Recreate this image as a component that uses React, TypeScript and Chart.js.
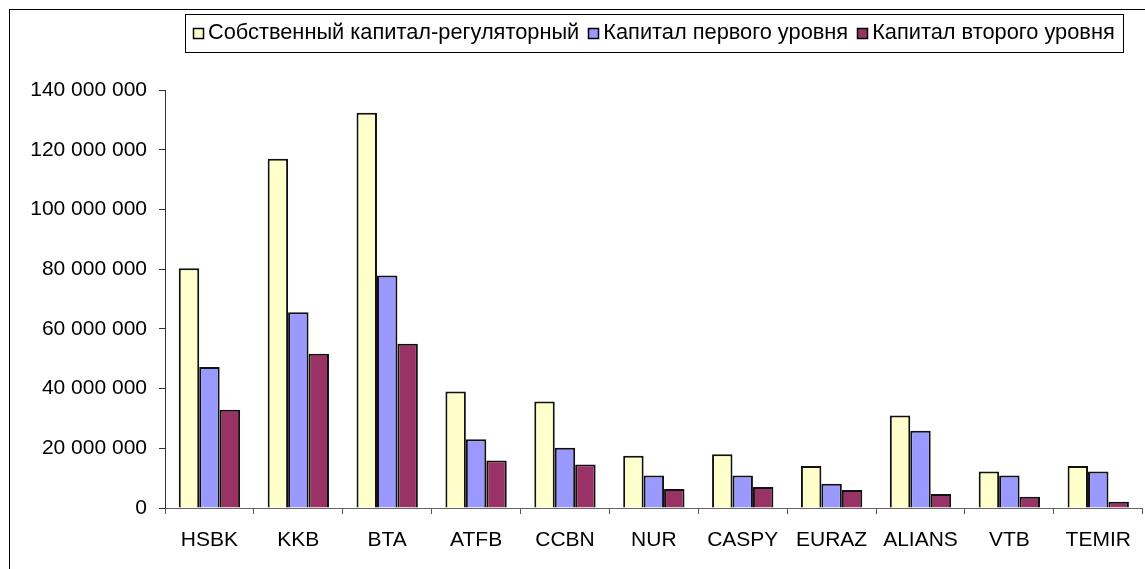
import React, { useEffect, useRef } from 'react';
import { Chart, registerables } from 'chart.js';

Chart.register(...registerables);

const categories = ['HSBK', 'KKB', 'BTA', 'ATFB', 'CCBN', 'NUR', 'CASPY', 'EURAZ', 'ALIANS', 'VTB', 'TEMIR'];
const seriesNames = ['Собственный капитал-регуляторный', 'Капитал первого уровня', 'Капитал второго уровня'];
const ownCapital = [80300000, 117000000, 132400000, 39000000, 35700000, 17500000, 18000000, 14100000, 31000000, 12200000, 14100000];
const tier1Capital = [47200000, 65600000, 77900000, 23000000, 20200000, 10900000, 10900000, 8100000, 25900000, 10900000, 12200000];
const tier2Capital = [32900000, 51700000, 55000000, 15900000, 14600000, 6400000, 7000000, 6000000, 4700000, 3800000, 2100000];
const yMin = 0;
const yMax = 140000000;
const yStep = 20000000;
const seriesColors = ['#FFFFCC', '#9999FF', '#993366'];

const FONT_FAMILY = '"Liberation Sans", Arial, sans-serif';

const formatNumber = (v: number) => String(Math.round(v)).replace(/\B(?=(\d{3})+(?!\d))/g, ' ');

const boxLegend = {
  id: 'boxLegend',
  afterDraw(chart: any) {
    const ctx = chart.ctx as CanvasRenderingContext2D;
    const area = chart.chartArea;
    ctx.save();
    ctx.font = `21.8px ${FONT_FAMILY}`;
    const items = chart.data.datasets.map((ds: any) => ({
      label: ds.label as string,
      color: ds.backgroundColor as string,
      w: ctx.measureText(ds.label).width,
    }));
    const marker = 10;
    const gapText = 5;
    const gapItem = 9;
    const pad = 8;
    const total =
      items.reduce((s: number, it: any) => s + marker + gapText + it.w, 0) + gapItem * (items.length - 1);
    const cx = (area.left + area.right) / 2;
    let x = cx - total / 2;
    const top = 14;
    const bottom = 52;
    const bx = Math.round(x - pad) + 0.5;
    const bw = Math.round(total + 2 * pad);
    ctx.fillStyle = '#ffffff';
    ctx.fillRect(bx, top + 0.5, bw, bottom - top);
    ctx.strokeStyle = '#000000';
    ctx.lineWidth = 1;
    ctx.strokeRect(bx, top + 0.5, bw, bottom - top);
    const cy = 33;
    items.forEach((it: any) => {
      const mx = Math.round(x) + 0.5;
      const my = Math.round(cy - marker / 2) + 0.5;
      ctx.fillStyle = it.color;
      ctx.fillRect(mx, my, marker, marker);
      ctx.strokeStyle = '#000000';
      ctx.lineWidth = 1.5;
      ctx.strokeRect(mx, my, marker, marker);
      ctx.fillStyle = '#000000';
      ctx.textBaseline = 'middle';
      ctx.textAlign = 'left';
      ctx.fillText(it.label, x + marker + gapText, cy);
      x += marker + gapText + it.w + gapItem;
    });
    ctx.restore();
  },
};

export default function App() {
  const canvasRef = useRef<HTMLCanvasElement | null>(null);

  useEffect(() => {
    if (!canvasRef.current) return;
    const seriesValues = [ownCapital, tier1Capital, tier2Capital];
    const chart = new Chart(canvasRef.current, {
      type: 'bar',
      data: {
        labels: categories,
        datasets: seriesNames.map((name, i) => ({
          label: name,
          data: seriesValues[i],
          backgroundColor: seriesColors[i],
          borderColor: '#111111',
          borderWidth: 2,
          categoryPercentage: 0.69,
          barPercentage: 1,
        })),
      },
      options: {
        animation: false,
        responsive: false,
        devicePixelRatio: 1,
        layout: { padding: { top: 90, right: 2, left: 0, bottom: 0 } },
        plugins: {
          legend: { display: false },
          tooltip: { enabled: false },
          title: { display: false },
        },
        scales: {
          x: {
            offset: true,
            grid: {
              display: true,
              offset: true,
              drawOnChartArea: false,
              drawTicks: true,
              tickLength: 6,
              color: '#555555',
            },
            border: { display: true, color: '#666666', width: 1 },
            ticks: {
              color: '#000000',
              font: { family: FONT_FAMILY, size: 21 },
              padding: 14,
              maxRotation: 0,
              autoSkip: false,
            },
            afterFit: (scale: any) => {
              scale.height = 61;
            },
          },
          y: {
            min: yMin,
            max: yMax,
            grid: {
              display: true,
              drawOnChartArea: false,
              drawTicks: true,
              tickLength: 6,
              color: '#333333',
            },
            border: { display: true, color: '#333333', width: 1 },
            ticks: {
              stepSize: yStep,
              color: '#000000',
              font: { family: FONT_FAMILY, size: 21 },
              padding: 12,
              callback: (v: any) => formatNumber(Number(v)),
            },
            afterFit: (scale: any) => {
              scale.width = 165;
            },
          },
        },
      },
      plugins: [boxLegend],
    });
    return () => chart.destroy();
  }, []);

  return (
    <div
      style={{
        position: 'fixed',
        left: 0,
        top: 0,
        width: 1145,
        height: 569,
        overflow: 'hidden',
        background: '#ffffff',
      }}
    >
      <div
        style={{
          position: 'absolute',
          left: 9,
          top: 9,
          width: 1300,
          height: 700,
          borderTop: '1px solid #000',
          borderLeft: '1px solid #000',
        }}
      />
      <canvas
        ref={canvasRef}
        width={1145}
        height={569}
        style={{ position: 'absolute', left: 0, top: 0, width: 1145, height: 569 }}
      />
    </div>
  );
}
